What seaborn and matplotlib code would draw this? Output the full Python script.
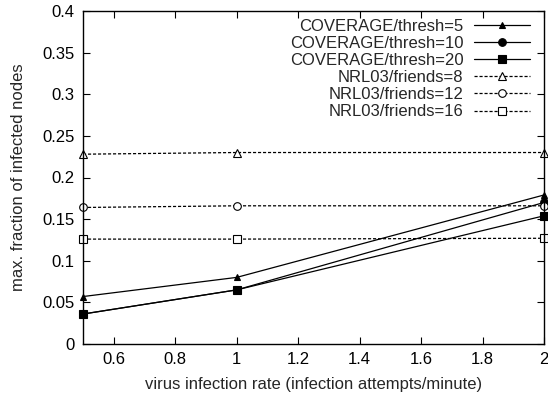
import matplotlib
matplotlib.use("Agg")
import matplotlib.pyplot as plt
import seaborn as sns
import pandas as pd

rates = [0.5, 1.0, 2.0]
cov_thresh5 = [0.057, 0.080, 0.179]
cov_thresh10 = [0.036, 0.065, 0.170]
cov_thresh20 = [0.036, 0.065, 0.154]
nrl_friends8 = [0.228, 0.230, 0.230]
nrl_friends12 = [0.164, 0.166, 0.166]
nrl_friends16 = [0.126, 0.126, 0.127]

series_names = ["COVERAGE/thresh=5", "COVERAGE/thresh=10", "COVERAGE/thresh=20",
                "NRL03/friends=8", "NRL03/friends=12", "NRL03/friends=16"]
series_values = [cov_thresh5, cov_thresh10, cov_thresh20,
                 nrl_friends8, nrl_friends12, nrl_friends16]
x_ticks = [0.6, 0.8, 1.0, 1.2, 1.4, 1.6, 1.8, 2.0]
x_ticklabels = ["0.6", "0.8", "1", "1.2", "1.4", "1.6", "1.8", "2"]
y_ticks = [0, 0.05, 0.1, 0.15, 0.2, 0.25, 0.3, 0.35, 0.4]
y_ticklabels = ["0", "0.05", "0.1", "0.15", "0.2", "0.25", "0.3", "0.35", "0.4"]

sns.set_theme(style="ticks")
plt.rcParams['font.family'] = ['Liberation Sans', 'DejaVu Sans']

rows = []
for name, vals in zip(series_names, series_values):
    for x, v in zip(rates, vals):
        rows.append({"rate": x, "frac": v, "series": name})
df = pd.DataFrame(rows)

fig = plt.figure(figsize=(5.48, 3.99), dpi=100)
ax = fig.add_axes([83/548, 1-344/399, (544-83)/548, (344-11)/399])

dash = (0, (2.5, 1.5))
styles = {
    "COVERAGE/thresh=5": dict(marker="^", ms=5, mfc="black", ls="-"),
    "COVERAGE/thresh=10": dict(marker="o", ms=5.5, mfc="black", ls="-"),
    "COVERAGE/thresh=20": dict(marker="s", ms=5.5, mfc="black", ls="-"),
    "NRL03/friends=8": dict(marker="^", ms=5.5, mfc="white", ls=dash),
    "NRL03/friends=12": dict(marker="o", ms=5.5, mfc="white", ls=dash),
    "NRL03/friends=16": dict(marker="s", ms=5.5, mfc="white", ls=dash),
}

for name in series_names:
    st = styles[name]
    sub = df[df["series"] == name]
    sns.lineplot(data=sub, x="rate", y="frac", ax=ax, label=name, color="black",
                 linewidth=0.9, linestyle=st["ls"], marker=st["marker"],
                 markersize=st["ms"], markerfacecolor=st["mfc"],
                 markeredgecolor="black", markeredgewidth=0.8, clip_on=False)

ax.set_xlim(0.5, 2.0)
ax.set_ylim(0, 0.4)
ax.set_xticks(x_ticks)
ax.set_xticklabels(x_ticklabels)
ax.set_yticks(y_ticks)
ax.set_yticklabels(y_ticklabels)
ax.tick_params(direction="in", top=True, right=True, length=5, width=0.8,
               labelsize=12, colors="black", pad=6)
for s in ax.spines.values():
    s.set_linewidth(1.0)
    s.set_color("black")
ax.set_xlabel("virus infection rate (infection attempts/minute)", fontsize=12, labelpad=7)
ax.set_ylabel("max. fraction of infected nodes", fontsize=12, labelpad=12)

leg = ax.legend(loc="upper right", bbox_to_anchor=(0.981, 0.992),
                markerfirst=False, frameon=False, fontsize=12,
                handlelength=3.4, handletextpad=0.6, labelspacing=0.13,
                borderaxespad=0.0, borderpad=0.3)

fig.savefig("out.png", dpi=100)
